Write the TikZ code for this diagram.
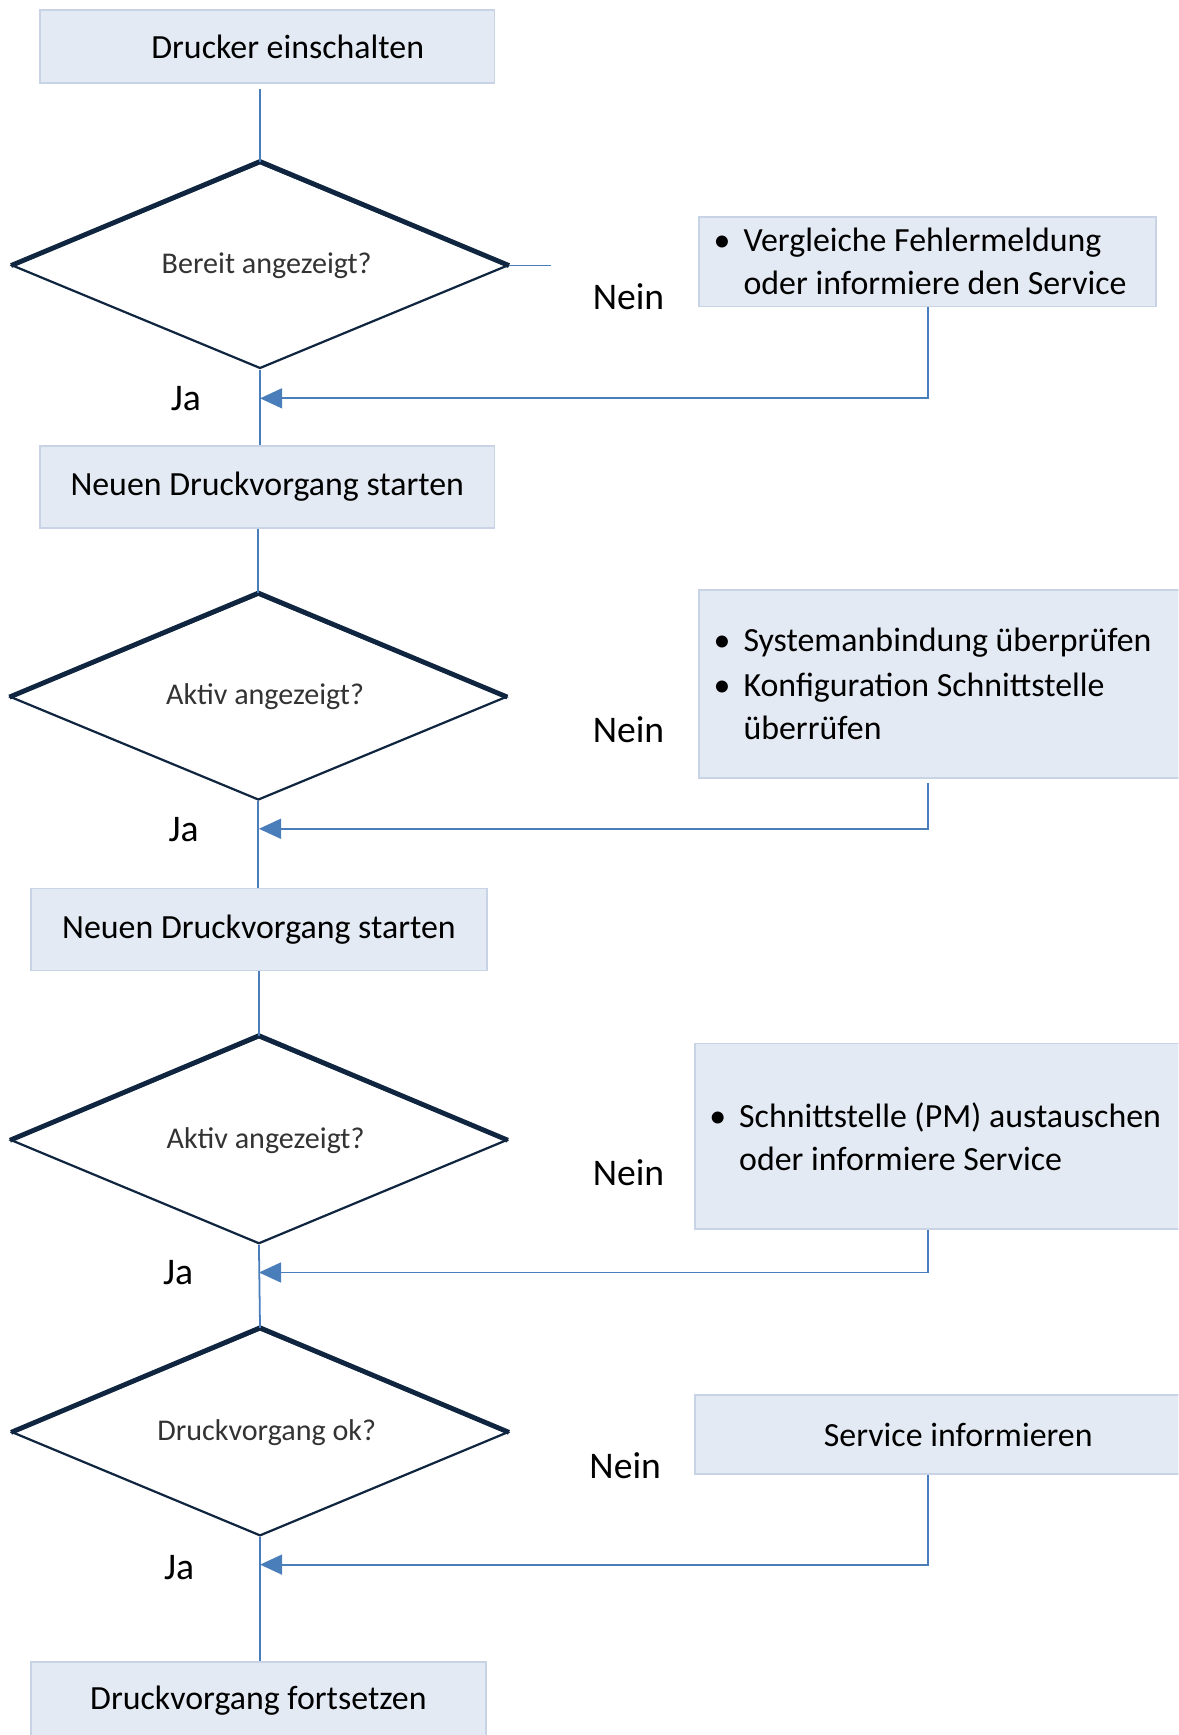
\documentclass[tikz,border=0pt]{standalone}
\usepackage{fontspec}
\setmainfont{Carlito}
\usetikzlibrary{shapes.geometric,arrows.meta}
\definecolor{boxfill}{HTML}{E4EAF3}
\definecolor{boxline}{HTML}{C8D4E6}
\definecolor{connc}{HTML}{4A7EBB}
\definecolor{dline}{HTML}{10253F}
\definecolor{dtext}{HTML}{333333}
\newcommand\bul{\makebox[10.5pt][l]{\kern-3pt•}}
\newcommand\hang{\hspace*{10.5pt}}
\newcommand\natsp{\spaceskip=0pt\xspaceskip=0pt\relax}
\newcommand\dq[1]{\hspace*{6pt}#1}
\begin{document}
\begin{tikzpicture}[x=0.5pt,y=-0.5pt,
  box/.style={rectangle,draw=boxline,fill=boxfill,line width=0.8pt,inner sep=0pt,
    font=\fontsize{15.3}{19.5}\selectfont},
  lbox/.style={box,align=left,inner xsep=9.5pt},
  dia/.style={diamond,aspect=2.41,draw=dline,line width=1pt,inner sep=0pt,
    minimum width=224pt,minimum height=93pt,text=dtext,
    font=\fontsize{13.6}{16}\selectfont},
  dtop/.style={draw=dline,line width=2.2pt,line join=miter},
  link/.style={draw=connc,line width=0.8pt},
  arr/.style={link,line width=0.9pt,-{Triangle[length=10pt,width=9pt]}},
  lab/.style={font=\fontsize{17}{20}\selectfont,inner sep=0pt}]
\useasboundingbox (0,0) rectangle (1065,1568);
\clip (0,0) rectangle (1065,1568);

% main column boxes and decisions
\node[box,minimum width=205.5pt,minimum height=33pt] (b1) at (241.5,42) {\hspace*{18.5pt}Drucker einschalten};
\node[dia] (d1) at (235,240) {\dq{Bereit angezeigt?}};
\node[box,minimum width=205.5pt,minimum height=37pt] (b3) at (241.5,440) {Neuen Druckvorgang starten};
\node[dia] (d2) at (233.5,630) {\dq{Aktiv angezeigt?}};
\node[box,minimum width=206pt,minimum height=37pt] (b5) at (234,840) {Neuen Druckvorgang starten};
\node[dia,minimum height=93.5pt] (d3) at (234,1030.5) {\dq{Aktiv angezeigt?}};
\node[dia,minimum height=93.5pt] (d4) at (235,1294.5) {\dq{Druckvorgang ok?}};
\node[box,minimum width=205.5pt,minimum height=35pt] (b8) at (233.5,1537) {Druckvorgang fortsetzen};

% thicker upper edges of the diamonds
\foreach \d in {d1,d2,d3,d4}{\draw[dtop] (\d.west) -- (\d.north) -- (\d.east);}

% side boxes
\node[lbox,text width=187.5pt,minimum height=40.5pt] (n1) at (838.5,236.5)
  {\natsp\bul Vergleiche Fehlermeldung\\\hang oder informiere den Service};
\node[lbox,text width=217.5pt,minimum height=85pt] (n2) at (868.5,618)
  {\natsp\bul Systemanbindung überprüfen\\[0.8pt]\bul Konfiguration Schnittstelle\\\hang überrüfen};
\node[lbox,text width=219.5pt,minimum height=84pt] (n3) at (866.5,1027)
  {\natsp\bul Schnittstelle (PM) austauschen\\\hang oder informiere Service};
\node[box,minimum width=238pt,minimum height=35.5pt] (n4) at (866,1296.5) {Service informieren};

% labels
\node[lab] (nein1) at (568,268) {Nein};
\node[lab] (nein2) at (568,659) {Nein};
\node[lab] (nein3) at (568,1060) {Nein};
\node[lab] (nein4) at (565,1325) {Nein};
\node[lab] (ja1) at (168,360) {Ja};
\node[lab] (ja2) at (166,750) {Ja};
\node[lab] (ja3) at (161,1150) {Ja};
\node[lab] (ja4) at (162,1417) {Ja};

% trunk
\draw[link] ([yshift=-2.5pt]b1.south -| d1.north) -- (d1.north);
\draw[link] (d1.south) -- (d1.south |- b3.north);
\draw[link] (b3.south -| d2.north) -- (d2.north);
\draw[link] (d2.south) -- (d2.south |- b5.north);
\draw[link] (b5.south -| d3.north) -- (d3.north);
\draw[link] (d3.south) -- (d4.north);
\draw[link] (d4.south) -- (d4.south |- b8.north);

% stub to the right of the first decision
\coordinate (s1) at (498,240);
\draw[link] (d1.east) -- (s1);

% return arrows
\coordinate (m1) at (235,360);
\coordinate (m2) at (234,749);
\coordinate (m3) at (234,1150);
\coordinate (m4) at (235,1414);
\draw[arr] (n1.south) |- (m1);
\draw[arr] ([yshift=-2pt]n2.south -| n1.south) |- (m2);
\draw[arr] (n3.south -| n1.south) |- (m3);
\draw[arr] (n4.south -| n1.south) |- (m4);
\end{tikzpicture}
\end{document}
